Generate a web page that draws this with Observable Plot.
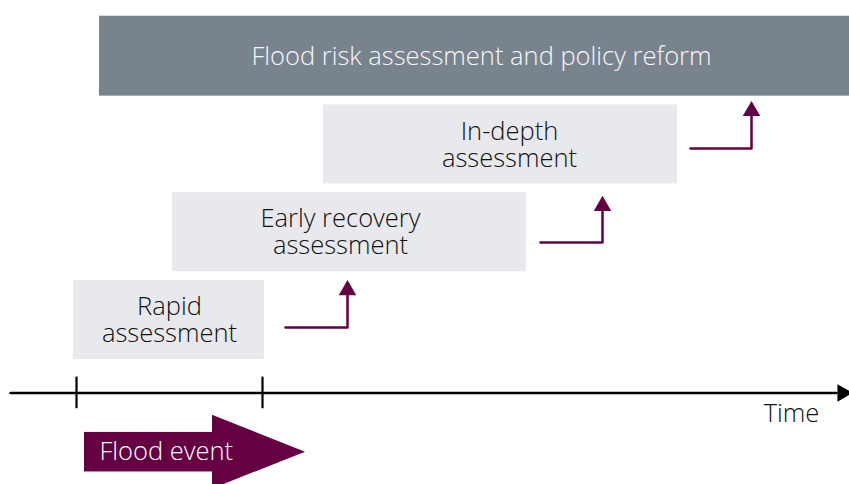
<!DOCTYPE html>
<html>
<head>
<meta charset="utf-8">
<script src="https://cdn.jsdelivr.net/npm/d3@7"></script>
<script src="https://cdn.jsdelivr.net/npm/@observablehq/plot@0.6"></script>
<style>
  html, body { margin: 0; padding: 0; background: #ffffff; overflow: hidden; }
  #chart svg { display: block; font-family: "Open Sans", Lato, "Noto Sans", sans-serif; }
</style>
</head>
<body>
<div id="chart"></div>
<script>
// ---- data (time units on x, stage level on y) ----
const stageLabels = ["Rapid\nassessment", "Early recovery\nassessment", "In-depth\nassessment", "Flood risk assessment and policy reform"];
const stageStart = [73, 172, 323, 99];
const stageEnd = [264, 526, 677, 849];
const stageLabelAt = [169, 340, 509, 481];
const stageLevel = [0, 1, 2, 3];
const stageDark = [false, false, false, true];

// L-shaped transition arrows: horizontal from arrowFrom to arrowTo at arrowLevel, then up to arrowTop
const arrowFrom = [285, 540, 690];
const arrowTo = [347, 602, 751];
const arrowLevel = [-0.085, 0.883, 1.953];
const arrowTop = [0.34, 1.30, 2.38];

// timeline
const timelineStart = 10;
const timelineEnd = 842;
const timelineLevel = -0.83;
const tickTimes = [76, 262];
const timeLabel = "Time";
const timeLabelAt = 791;

// flood event arrow
const eventLabel = "Flood event";
const eventStart = 84;
const eventHeadStart = 212;
const eventTip = 305;
const eventLevel = -1.505;

const maroon = "#650042";
const lightBox = "#e8e9ec";
const darkBox = "#78838e";

const stages = stageLabels.map((label, i) => ({
  label, start: stageStart[i], end: stageEnd[i], at: stageLabelAt[i], level: stageLevel[i], dark: stageDark[i]
}));
const half = 0.45;

const arrowPaths = arrowFrom.flatMap((f, i) => [
  {id: i, x: f, y: arrowLevel[i]},
  {id: i, x: arrowTo[i], y: arrowLevel[i]},
  {id: i, x: arrowTo[i], y: arrowTop[i]}
]);
const arrowHeads = arrowTo.map((t, i) => ({x: t, y: arrowTop[i]}));

const eventHead = [
  {x: eventHeadStart, y1: eventLevel + 0.42, y2: eventLevel - 0.42},
  {x: eventTip, y1: eventLevel, y2: eventLevel}
];

const fs = 25.5;

const chart = Plot.plot({
  width: 849,
  height: 484,
  margin: 0,
  x: {domain: [0, 849], axis: null},
  y: {domain: [-1.873, 3.639], axis: null},
  marks: [
    Plot.rect(stages, {
      x1: "start", x2: "end",
      y1: d => d.level - half, y2: d => d.level + (d.dark ? half + 0.01 : half),
      fill: d => d.dark ? darkBox : lightBox
    }),
    Plot.text(stages, {
      x: "at", y: "level", text: "label",
      fill: d => d.dark ? "#f7f7f7" : "#111111",
      fontSize: fs, lineHeight: 1.06, fontWeight: 300
    }),
    Plot.line(arrowPaths, {x: "x", y: "y", z: "id", stroke: maroon, strokeWidth: 2.5, curve: "linear"}),
    Plot.dot(arrowHeads, {x: "x", y: "y", symbol: "triangle", r: 6.5, fill: maroon, stroke: "none"}),
    // timeline
    Plot.line([{x: timelineStart, y: timelineLevel}, {x: timelineEnd - 6, y: timelineLevel}], {x: "x", y: "y", stroke: "#000", strokeWidth: 2.5}),
    Plot.dot([{x: timelineEnd, y: timelineLevel}], {x: "x", y: "y", symbol: "triangle", rotate: 90, r: 6.5, fill: "#000", stroke: "none"}),
    Plot.ruleX(tickTimes, {y1: timelineLevel - 0.18, y2: timelineLevel + 0.18, stroke: "#000", strokeWidth: 2.2}),
    Plot.text([timeLabel], {x: timeLabelAt, y: timelineLevel - 0.24, text: d => d, fontSize: fs, fontWeight: 300, fill: "#111111"}),
    // flood event arrow
    Plot.rect([{}], {x1: eventStart, x2: eventHeadStart + 1, y1: eventLevel - 0.225, y2: eventLevel + 0.225, fill: maroon}),
    Plot.areaY(eventHead, {x: "x", y1: "y1", y2: "y2", fill: maroon}),
    Plot.text([eventLabel], {x: eventStart + 15, y: eventLevel, text: d => d, textAnchor: "start", fontSize: fs, fontWeight: 300, fill: "#ffffff"})
  ]
});
document.getElementById("chart").appendChild(chart);
</script>
</body>
</html>
